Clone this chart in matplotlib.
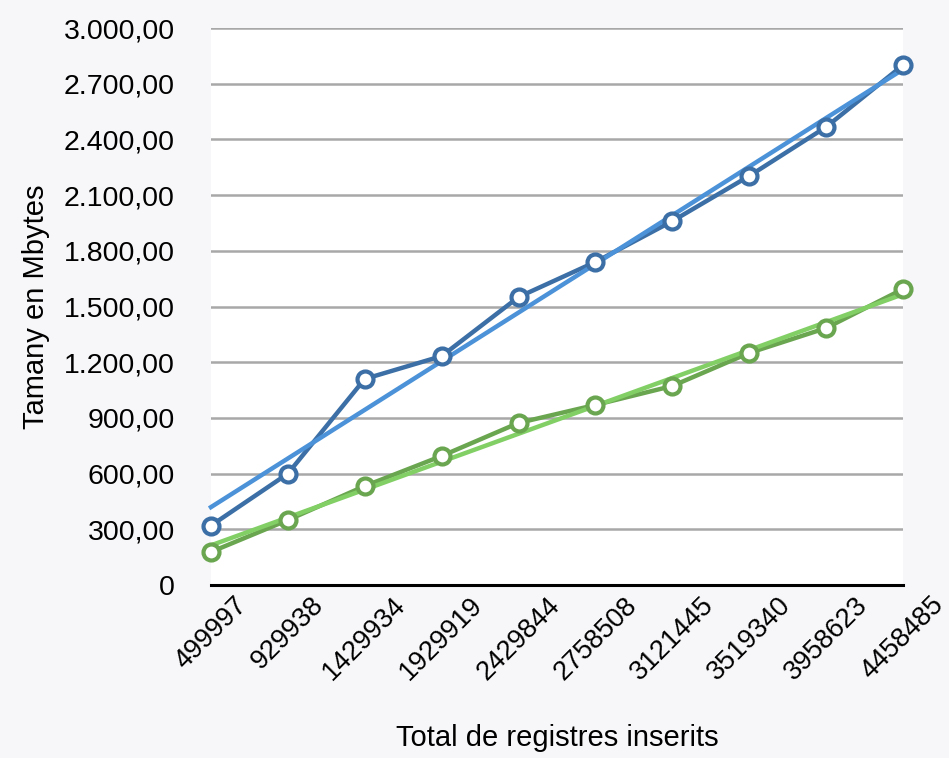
import numpy as np
import matplotlib
matplotlib.use('Agg')
import matplotlib.pyplot as plt
from matplotlib.ticker import FuncFormatter

plt.rcParams['font.family'] = ['Liberation Sans', 'DejaVu Sans']

registres = ['499997', '929938', '1429934', '1929919', '2429844',
             '2758508', '3121445', '3519340', '3958623', '4458485']
serie_blava = [320, 600, 1110, 1233, 1551, 1740, 1960, 2203, 2467, 2800]
serie_verda = [178, 350, 533, 695, 873, 970, 1072, 1250, 1384, 1594]

x = np.arange(len(registres))

fig = plt.figure(figsize=(9.49, 7.58), dpi=100, facecolor='#f7f7f9')
ax = fig.add_axes([0.2223, 0.2282, 0.9515 - 0.2223, 0.963 - 0.2282])
ax.set_facecolor('white')

# linies de dades
ax.plot(x, serie_blava, color='#3b6fa6', lw=3.2, zorder=3, clip_on=False)
ax.plot(x, serie_verda, color='#6aa650', lw=3.2, zorder=3, clip_on=False)

# linies de tendencia (ajust lineal)
for vals, col in [(serie_blava, '#4b92d8'), (serie_verda, '#82cf66')]:
    a, b = np.polyfit(x, vals, 1)
    ax.plot(x, a * x + b, color=col, lw=3.2, zorder=4, clip_on=False)

for vals, col in [(serie_blava, '#3b6fa6'), (serie_verda, '#6aa650')]:
    ax.plot(x, vals, ls='none', marker='o', ms=11.5, mfc='white', mec=col,
            mew=3, zorder=5, clip_on=False)

ax.set_xlim(0, 9)
ax.set_ylim(0, 3000)
ax.set_yticks(np.arange(0, 3001, 300))

def fmt(v, pos):
    if v == 0:
        return '0'
    s = '{:,.2f}'.format(v)
    return s.replace(',', 'X').replace('.', ',').replace('X', '.')

ax.yaxis.set_major_formatter(FuncFormatter(fmt))
ax.set_xticks(x)
ax.set_xticklabels(registres, rotation=45)
ax.tick_params(axis='both', length=0, colors='black')
ax.tick_params(axis='y', pad=26, labelsize=20.5)
ax.tick_params(axis='x', pad=5, labelsize=19.5)

ax.grid(axis='y', color='#a8a8a8', lw=1.8)
ax.set_axisbelow(True)
for s in ['top', 'right', 'left']:
    ax.spines[s].set_visible(False)
ax.spines['bottom'].set_color('black')
ax.spines['bottom'].set_linewidth(2.2)
ax.spines['bottom'].set_zorder(2)

ax.set_ylabel('Tamany en Mbytes', fontsize=21, labelpad=10)
ax.set_xlabel('Total de registres inserits', fontsize=21, labelpad=28)

fig.savefig('out.png', dpi=100, facecolor=fig.get_facecolor())
